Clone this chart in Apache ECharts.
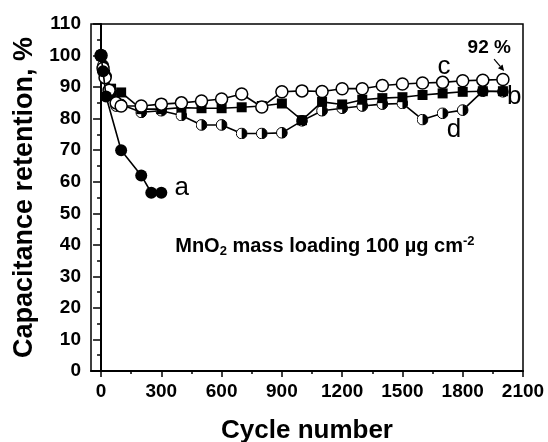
<!DOCTYPE html>
<html><head><meta charset="utf-8">
<script src="https://cdn.jsdelivr.net/npm/echarts@6/dist/echarts.min.js"></script>
<style>html,body{margin:0;padding:0;background:#fff}#c{width:548px;height:442px}</style>
</head><body><div id="c"></div>
<script>
// ---- data ----
const seriesA_x = [0, 10, 25, 100, 200, 250, 300];
const seriesA_y = [100, 95, 87, 70, 62, 56.5, 56.5];

const seriesB_x = [0, 20, 50, 100, 200, 300, 400, 500, 600, 700, 800, 900, 1000, 1100, 1200, 1300, 1400, 1500, 1600, 1700, 1800, 1900, 2000];
const seriesB_y = [100, 94, 89.5, 88.3, 83, 83, 83.5, 83.3, 83.3, 83.6, 84, 84.8, 79.5, 85.3, 84.5, 86, 86.5, 86.8, 87.5, 88, 88.5, 88.7, 88.7];

const seriesC_x = [0, 10, 20, 40, 75, 100, 200, 300, 400, 500, 600, 700, 800, 900, 1000, 1100, 1200, 1300, 1400, 1500, 1600, 1700, 1800, 1900, 2000];
const seriesC_y = [100, 96, 93, 89, 85, 84, 84, 84.6, 85, 85.6, 86.2, 87.8, 83.7, 88.5, 88.8, 88.6, 89.5, 89.5, 90.5, 91, 91.3, 91.5, 92, 92.2, 92.4];

const seriesD_x = [0, 10, 25, 50, 75, 100, 200, 300, 400, 500, 600, 700, 800, 900, 1000, 1100, 1200, 1300, 1400, 1500, 1600, 1700, 1800, 1900, 2000];
const seriesD_y = [100, 97, 93.5, 88, 84, 84.5, 82, 82.5, 81, 78, 78, 75.3, 75.3, 75.5, 79.3, 82.5, 83.3, 84, 84.6, 84.8, 79.7, 81.7, 82.7, 88.7, 88.5];

const xTickLabels = [0, 300, 600, 900, 1200, 1500, 1800, 2100];
const xMinorTicks = [150, 450, 750, 1050, 1350, 1650, 1950];

const labels = [
  {text: 'a', x: 401, y: 58},
  {text: 'b', x: 2056, y: 87},
  {text: 'c', x: 1707, y: 96.5},
  {text: 'd', x: 1757, y: 76.3}
];
const pctLabel = {text: '92 %', x: 1932, y: 102.4};
const arrowFrom = [1956, 98.9], arrowTo = [2006, 95.1];
const noteAnchor = [1114, 39.4];

// ---- chart ----
const zip = (xs, ys) => xs.map((x, i) => [x, ys[i]]);
const halfSvg = "<svg xmlns='http://www.w3.org/2000/svg' width='48' height='48' viewBox='0 0 48 48'>" +
  "<circle cx='24' cy='24' r='21.5' fill='white' stroke='black' stroke-width='4'/>" +
  "<path d='M24 2.5 A21.5 21.5 0 0 1 24 45.5 Z' fill='black'/></svg>";
const halfSymbol = 'image://data:image/svg+xml;charset=utf-8,' + encodeURIComponent(halfSvg);

const FONT = '"Liberation Sans", Arial, Helvetica, sans-serif';
const chart = echarts.init(document.getElementById('c'), null, {renderer: 'canvas'});
const lineBase = {type: 'line', lineStyle: {color: '#000', width: 1.6}, animation: false, z: 3};
const plain = v => String(v);

chart.setOption({
  backgroundColor: '#fff',
  animation: false,
  grid: {left: 91, right: 25, top: 24, bottom: 71, containLabel: false, outerBoundsMode: 'none',
    show: true, borderColor: '#000', borderWidth: 1.5, backgroundColor: 'transparent'},
  xAxis: [{
    type: 'value', min: -50, max: 2100, position: 'bottom',
    name: 'Cycle number', nameLocation: 'middle', nameGap: 47,
    nameTextStyle: {fontFamily: FONT, fontWeight: 'bold', fontSize: 26, color: '#000'},
    axisLine: {show: true, lineStyle: {color: '#000', width: 2}},
    axisTick: {show: true, customValues: xTickLabels, length: 6, lineStyle: {color: '#000', width: 1.5}},
    axisLabel: {customValues: xTickLabels, formatter: plain, fontFamily: FONT, fontWeight: 'bold', fontSize: 19, color: '#000', margin: 11},
    splitLine: {show: false}
  }, {
    type: 'value', min: -50, max: 2100, position: 'bottom',
    axisLine: {show: false},
    axisTick: {show: true, customValues: xMinorTicks, length: 3, lineStyle: {color: '#000', width: 1.5}},
    axisLabel: {show: false},
    splitLine: {show: false}
  }],
  yAxis: {
    type: 'value', min: 0, max: 110, interval: 10,
    name: 'Capacitance retention, %', nameLocation: 'middle', nameGap: 52,
    nameTextStyle: {fontFamily: FONT, fontWeight: 'bold', fontSize: 27, color: '#000'},
    axisLine: {show: true, lineStyle: {color: '#000', width: 2}},
    axisTick: {show: true, length: 8, lineStyle: {color: '#000', width: 1.5}},
    minorTick: {show: true, splitNumber: 2, length: 4, lineStyle: {color: '#000', width: 1.5}},
    axisLabel: {formatter: plain, fontFamily: FONT, fontWeight: 'bold', fontSize: 19, color: '#000', margin: 10},
    splitLine: {show: false}
  },
  series: [
    Object.assign({}, lineBase, {name: 'd', data: zip(seriesD_x, seriesD_y), symbol: halfSymbol, symbolSize: 12, z: 3}),
    Object.assign({}, lineBase, {name: 'b', data: zip(seriesB_x, seriesB_y), symbol: 'rect', symbolSize: 10,
      itemStyle: {color: '#000', borderColor: '#000', borderWidth: 0}, z: 4}),
    Object.assign({}, lineBase, {name: 'c', data: zip(seriesC_x, seriesC_y), symbol: 'circle', symbolSize: 12,
      itemStyle: {color: '#fff', borderColor: '#000', borderWidth: 1.5}, z: 5}),
    Object.assign({}, lineBase, {name: 'a', data: zip(seriesA_x, seriesA_y), symbol: 'circle', symbolSize: 12,
      itemStyle: {color: '#000', borderColor: '#000', borderWidth: 0}, z: 6})
  ]
});

function px(p) { return chart.convertToPixel({xAxisIndex: 0, yAxisIndex: 0}, p); }
const g = [];
labels.forEach(l => {
  const p = px([l.x, l.y]);
  g.push({type: 'text', x: p[0], y: p[1], z: 10,
    style: {text: l.text, fontFamily: FONT, fontSize: 26, fill: '#000', align: 'center', verticalAlign: 'middle'}});
});
const pp = px([pctLabel.x, pctLabel.y]);
g.push({type: 'text', x: pp[0], y: pp[1], z: 10,
  style: {text: pctLabel.text, fontFamily: FONT, fontWeight: 'bold', fontSize: 19, fill: '#000', align: 'center', verticalAlign: 'middle'}});
const a0 = px(arrowFrom), a1 = px(arrowTo);
const ang = Math.atan2(a1[1] - a0[1], a1[0] - a0[0]);
const hl = 6, hw = 3;
const bx = a1[0] - hl * Math.cos(ang), by = a1[1] - hl * Math.sin(ang);
g.push({type: 'line', z: 10, shape: {x1: a0[0], y1: a0[1], x2: bx, y2: by}, style: {stroke: '#000', lineWidth: 1.2}});
g.push({type: 'polygon', z: 10, shape: {points: [[a1[0], a1[1]],
  [bx + hw * Math.sin(ang), by - hw * Math.cos(ang)], [bx - hw * Math.sin(ang), by + hw * Math.cos(ang)]]},
  style: {fill: '#000'}});
const np = px(noteAnchor);
g.push({type: 'text', x: np[0], y: np[1], z: 10,
  style: {text: '{b|MnO}{sub|2}{b| mass loading 100 µg cm}{sup|-2}', align: 'center', verticalAlign: 'middle',
    rich: {
      b: {fontFamily: FONT, fontWeight: 'bold', fontSize: 20, color: '#000'},
      sub: {fontFamily: FONT, fontWeight: 'bold', fontSize: 13, color: '#000', padding: [10, 0, 0, 0]},
      sup: {fontFamily: FONT, fontWeight: 'bold', fontSize: 13, color: '#000', padding: [0, 0, 10, 0]}
    }}});
chart.setOption({graphic: g});
</script>
</body></html>
